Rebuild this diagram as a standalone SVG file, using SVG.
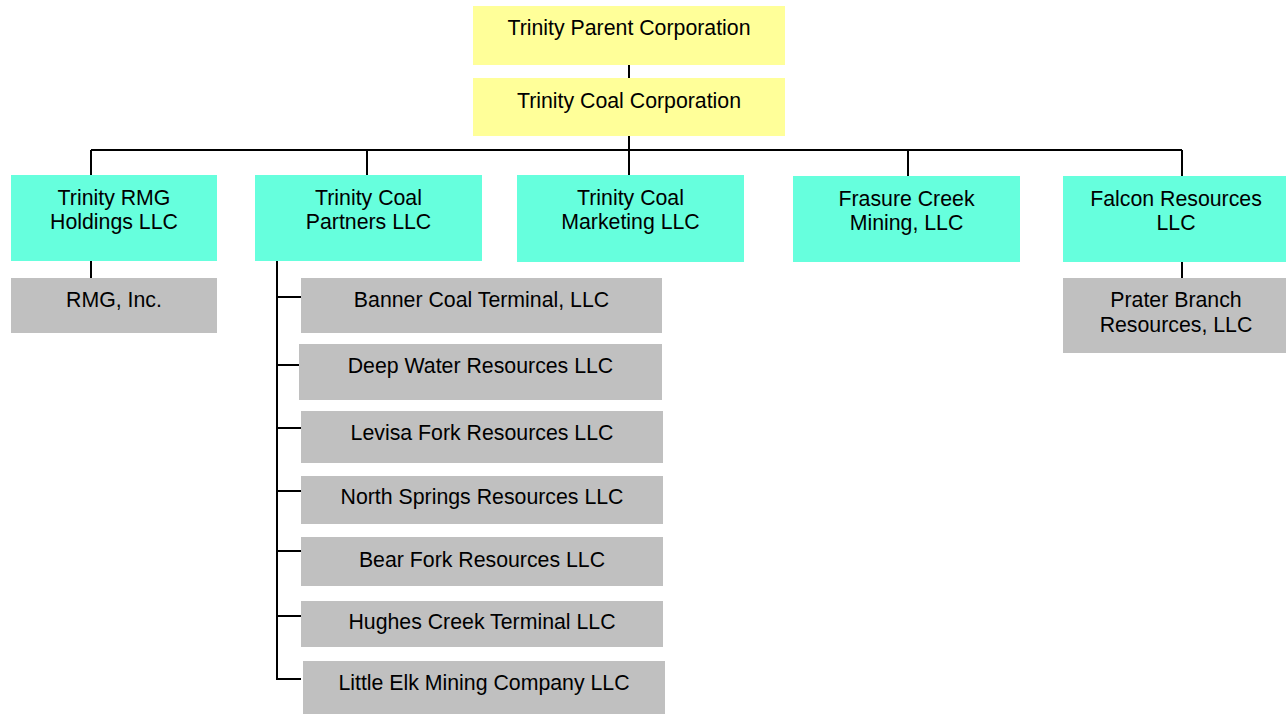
<svg xmlns="http://www.w3.org/2000/svg" width="1286" height="714" viewBox="0 0 1286 714">
<style>
.y{fill:#FFFF99}
.c{fill:#66FFDD}
.g{fill:#C0C0C0}
text{font-family:"Liberation Sans",Arial,sans-serif;font-size:21.3px;fill:#000;text-anchor:middle}
.ln{stroke:#000;stroke-width:2;fill:none}
</style>
<rect width="1286" height="714" fill="#fff"/>
<g id="connectors" class="ln">
<path d="M629 65V78M629 136V175M91 150H1182M91 150V175M367 150V175M908 150V176M1182 150V176"/>
<path d="M91 261V278M1182 262V278"/>
<path d="M277 261V679H301M277 297H301M277 365H299M277 428H301M277 491H301M277 551H301M277 616H301"/>
</g>
<g id="n-parent"><rect class="y" x="473" y="6" width="312" height="59"/><text x="629" y="35">Trinity Parent Corporation</text></g>
<g id="n-coal"><rect class="y" x="473" y="78" width="312" height="58"/><text x="629" y="108">Trinity Coal Corporation</text></g>
<g id="n-rmgh"><rect class="c" x="11" y="175" width="206" height="86"/><text x="114" y="205">Trinity RMG</text><text x="114" y="229">Holdings LLC</text></g>
<g id="n-partners"><rect class="c" x="255" y="175" width="227" height="86"/><text x="368.5" y="205">Trinity Coal</text><text x="368.5" y="229">Partners LLC</text></g>
<g id="n-marketing"><rect class="c" x="517" y="175" width="227" height="87"/><text x="630.5" y="205">Trinity Coal</text><text x="630.5" y="229">Marketing LLC</text></g>
<g id="n-frasure"><rect class="c" x="793" y="176" width="227" height="86"/><text x="906.5" y="206">Frasure Creek</text><text x="906.5" y="230">Mining, LLC</text></g>
<g id="n-falcon"><rect class="c" x="1063" y="176" width="223" height="86"/><text x="1176" y="206">Falcon Resources</text><text x="1176" y="230">LLC</text></g>
<g id="n-rmg"><rect class="g" x="11" y="278" width="206" height="55"/><text x="114" y="307">RMG, Inc.</text></g>
<g id="n-prater"><rect class="g" x="1063" y="278" width="223" height="75"/><text x="1176" y="307">Prater Branch</text><text x="1176" y="332">Resources, LLC</text></g>
<g id="n-banner"><rect class="g" x="301" y="278" width="361" height="55"/><text x="481.5" y="307">Banner Coal Terminal, LLC</text></g>
<g id="n-deep"><rect class="g" x="299" y="344" width="363" height="56"/><text x="480.5" y="373">Deep Water Resources LLC</text></g>
<g id="n-levisa"><rect class="g" x="301" y="411" width="362" height="52"/><text x="482" y="440">Levisa Fork Resources LLC</text></g>
<g id="n-north"><rect class="g" x="301" y="476" width="362" height="48"/><text x="482" y="504">North Springs Resources LLC</text></g>
<g id="n-bear"><rect class="g" x="301" y="537" width="362" height="49"/><text x="482" y="567">Bear Fork Resources LLC</text></g>
<g id="n-hughes"><rect class="g" x="301" y="601" width="362" height="46"/><text x="482" y="629">Hughes Creek Terminal LLC</text></g>
<g id="n-elk"><rect class="g" x="303" y="661" width="362" height="53"/><text x="484" y="690">Little Elk Mining Company LLC</text></g>
</svg>
